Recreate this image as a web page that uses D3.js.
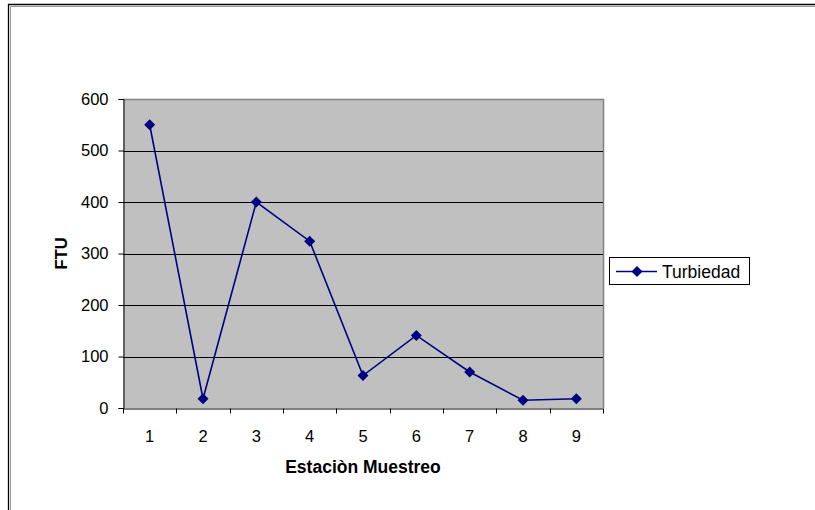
<!DOCTYPE html>
<html><head><meta charset="utf-8">
<script src="https://cdn.jsdelivr.net/npm/d3@7"></script>
<style>body{margin:0;background:#fff}svg{display:block;font-family:"Liberation Sans",Arial,sans-serif}</style>
</head><body><svg id="c" width="815" height="510"></svg>
<script>
const categories = ["1","2","3","4","5","6","7","8","9"];
const turbiedad = [550, 18, 400, 324, 63, 141, 70, 15, 18];
const yTicks = [0,100,200,300,400,500,600];
const seriesName = "Turbiedad";
const xTitle = "Estaciòn Muestreo";
const yTitle = "FTU";

const svg = d3.select("#c");
const L=123, R=603, T=99, B=408;
const x = d3.scaleBand().domain(categories).range([L,R]);
const y = d3.scaleLinear().domain([0,600]).range([B,T]);
const FF = "Liberation Sans, Arial, sans-serif";

// outer frame (top and left visible)
svg.append("path").attr("d","M9.5,512V5.5H816").attr("fill","none").attr("stroke","#999").attr("stroke-width",1).attr("transform","translate(1,1)");
svg.append("path").attr("d","M8.5,512V4.5H816").attr("fill","none").attr("stroke","#000").attr("stroke-width",1.3);

// plot area
svg.append("rect").attr("x",L).attr("y",T).attr("width",R-L).attr("height",B-T).attr("fill","#c0c0c0");
svg.append("path").attr("d",`M${L},${T+0.5}H${R+0.5}V${B}`).attr("fill","none").attr("stroke","#808080").attr("stroke-width",1.5);

// gridlines
svg.append("g").selectAll("line").data(yTicks.filter(d=>d>0 && d<600)).join("line")
  .attr("x1",L).attr("x2",R).attr("y1",d=>Math.round(y(d))+0.5).attr("y2",d=>Math.round(y(d))+0.5)
  .attr("stroke","#000").attr("stroke-width",1);

// y axis
const ya = svg.append("g").attr("transform",`translate(${L+0.5},0)`)
  .call(d3.axisLeft(y).tickValues(yTicks).tickSize(5).tickPadding(10).tickFormat(d3.format("d")));
ya.select(".domain").attr("stroke","#000");
ya.selectAll("line").attr("stroke","#000");
ya.selectAll("text").attr("font-size",16.5).attr("fill","#000").attr("font-family",FF);

// x axis
const xa = svg.append("g").attr("transform",`translate(0,${B+0.5})`)
  .call(d3.axisBottom(x).tickSize(0).tickPadding(22));
xa.select(".domain").attr("stroke","#000");
xa.selectAll("text").attr("font-size",16.5).attr("fill","#000").attr("font-family",FF);
xa.selectAll(".bt").data(d3.range(categories.length+1)).join("line")
  .attr("x1",i=>Math.round(L+i*x.step())+0.5).attr("x2",i=>Math.round(L+i*x.step())+0.5)
  .attr("y1",0).attr("y2",5).attr("stroke","#000");

// axis titles
svg.append("text").attr("x",363).attr("y",473).attr("text-anchor","middle")
  .attr("font-weight","bold").attr("font-size",17.5).attr("font-family",FF).text(xTitle);
svg.append("text").attr("transform","translate(66.5,253.5) rotate(-90)").attr("text-anchor","middle")
  .attr("font-weight","bold").attr("font-size",16.5).attr("font-family",FF).text(yTitle);

// line
const cx = d => x(d)+x.bandwidth()/2;
const line = d3.line().x((d,i)=>cx(categories[i])).y(d=>y(d));
svg.append("path").datum(turbiedad).attr("d",line).attr("fill","none").attr("stroke","#000080").attr("stroke-width",1.6);
const diamond = "M0,-5.5L5.5,0L0,5.5L-5.5,0Z";
svg.append("g").selectAll("path").data(turbiedad).join("path")
  .attr("d",diamond).attr("transform",(d,i)=>`translate(${cx(categories[i])},${y(d)})`).attr("fill","#000080");

// legend
const lg = svg.append("g");
lg.append("rect").attr("x",609.5).attr("y",257.5).attr("width",140).attr("height",27).attr("fill","#fff").attr("stroke","#000");
lg.append("line").attr("x1",616).attr("x2",657).attr("y1",271.5).attr("y2",271.5).attr("stroke","#000080").attr("stroke-width",1.6);
lg.append("path").attr("d",diamond).attr("transform","translate(637,271.5)").attr("fill","#000080");
lg.append("text").attr("x",662).attr("y",277.5).attr("font-size",17.5).attr("font-family",FF).text(seriesName);
</script></body></html>
